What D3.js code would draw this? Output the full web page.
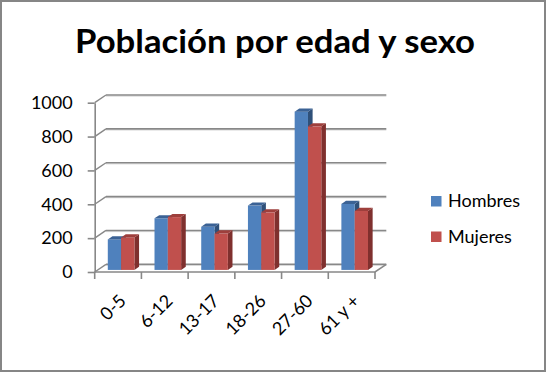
<!DOCTYPE html>
<html>
<head>
<meta charset="utf-8">
<script src="https://cdn.jsdelivr.net/npm/d3@7"></script>
<style>
  body { margin: 0; background: #fff; }
  text { font-family: Lato, "Open Sans", sans-serif; }
</style>
</head>
<body>
<svg width="547" height="373"></svg>
<script>
// datos
const categorias = ["0-5", "6-12", "13-17", "18-26", "27-60", "61 y +"];
const hombres = [180, 305, 255, 380, 935, 390];
const mujeres = [192, 312, 215, 340, 848, 348];
const series = ["Hombres", "Mujeres"];
const ticksY = [0, 200, 400, 600, 800, 1000];

const colores = {
  Hombres: {front: "#4f81bd", top: "#3b6295", side: "#2f5079"},
  Mujeres: {front: "#c0504d", top: "#9e3f3c", side: "#7f302e"}
};

const svg = d3.select("svg");

// marco
svg.append("rect").attr("x", 1).attr("y", 1).attr("width", 544).attr("height", 370)
  .attr("fill", "#fff").attr("stroke", "#868686").attr("stroke-width", 2);

// titulo
svg.append("text").attr("x", 275).attr("y", 53).attr("text-anchor", "middle")
  .style("font-size", "32px").style("font-weight", "bold")
  .attr("textLength", 400).attr("lengthAdjust", "spacingAndGlyphs")
  .text("Población por edad y sexo");

// proyeccion 3d (oblicua)
const DX = 11.3, DY = -7.7;
const x = d3.scaleBand().domain(categorias).range([94.7, 375]);
const y = d3.scaleLinear().domain([0, 1000]).range([272, 102.7]);
const gridColor = "#888888";

const g = svg.append("g");

// pared del fondo y lateral
ticksY.forEach(t => {
  g.append("line")
    .attr("x1", x.range()[0] + DX).attr("x2", x.range()[1] + DX)
    .attr("y1", y(t) + DY + 1.2).attr("y2", y(t) + DY + 1.2)
    .attr("stroke", "#d9d9d9").attr("stroke-width", 1);
  g.append("line")
    .attr("x1", x.range()[0] + DX).attr("x2", x.range()[1] + DX)
    .attr("y1", y(t) + DY).attr("y2", y(t) + DY)
    .attr("stroke", gridColor).attr("stroke-width", 1.6);
  g.append("line")
    .attr("x1", x.range()[0]).attr("x2", x.range()[0] + DX)
    .attr("y1", y(t)).attr("y2", y(t) + DY)
    .attr("stroke", gridColor).attr("stroke-width", 1.4);
});

// suelo
g.append("path")
  .attr("d", `M${x.range()[0]},${y(0)} L${x.range()[1]},${y(0)} L${x.range()[1] + DX},${y(0) + DY}`)
  .attr("fill", "none").attr("stroke", gridColor).attr("stroke-width", 1.6);

// eje y
const yAxis = d3.axisLeft(y).tickValues(ticksY).tickFormat(d3.format("d"))
  .tickSize(7).tickSizeOuter(0).tickPadding(15);
const ya = svg.append("g").attr("transform", `translate(${x.range()[0]},0)`).call(yAxis);
ya.select(".domain").attr("stroke", gridColor).attr("stroke-width", 1.6);
ya.selectAll(".tick line").attr("stroke", gridColor).attr("stroke-width", 1.6);
ya.selectAll(".tick text").attr("fill", "#000").style("font-size", "18px")
  .style("font-family", "Lato, 'Open Sans', sans-serif");

// marcas del eje x
const bordes = categorias.map(c => x(c)).concat([x.range()[1]]);
svg.selectAll(".xtick").data(bordes).enter().append("line")
  .attr("x1", d => d).attr("x2", d => d)
  .attr("y1", y(0)).attr("y2", y(0) + 7)
  .attr("stroke", gridColor).attr("stroke-width", 1.6);

svg.selectAll(".xlab").data(categorias).enter().append("text")
  .attr("text-anchor", "end")
  .attr("transform", c => `translate(${x(c) + x.bandwidth() / 2 + 9},${y(0) + 30}) rotate(-45)`)
  .style("font-size", "18px")
  .text(c => c);

// barras
const F0 = 0.27, F1 = 0.68;
const bw = x.bandwidth() * 0.285;
const filas = categorias.map((c, i) => ({c, vals: [hombres[i], mujeres[i]]}));

filas.forEach(f => {
  f.vals.forEach((v, j) => {
    const s = series[j];
    const x0 = x(f.c) + x.bandwidth() / 2 - bw + j * bw + DX * F0;
    const x1 = x0 + bw;
    const yb = y(0) + DY * F0;
    const yt = y(v) + DY * F0;
    const ddx = DX * (F1 - F0), ddy = DY * (F1 - F0);
    // lado
    g.append("path")
      .attr("d", `M${x1},${yt} L${x1 + ddx},${yt + ddy} L${x1 + ddx},${yb + ddy} L${x1},${yb} Z`)
      .attr("fill", colores[s].side);
    // frente
    g.append("rect").attr("x", x0).attr("y", yt).attr("width", bw).attr("height", yb - yt)
      .attr("fill", colores[s].front);
    // tapa
    g.append("path")
      .attr("d", `M${x0},${yt} L${x0 + ddx},${yt + ddy} L${x1 + ddx},${yt + ddy} L${x1},${yt} Z`)
      .attr("fill", colores[s].top);
  });
});

// leyenda
const ley = svg.append("g");
series.forEach((s, i) => {
  const yy = 196 + i * 35.5;
  ley.append("rect").attr("x", 431).attr("y", yy).attr("width", 10.5).attr("height", 10.5)
    .attr("fill", colores[s].front);
  ley.append("text").attr("x", 448).attr("y", yy + 11).style("font-size", "18px").text(s);
});
</script>
</body>
</html>
